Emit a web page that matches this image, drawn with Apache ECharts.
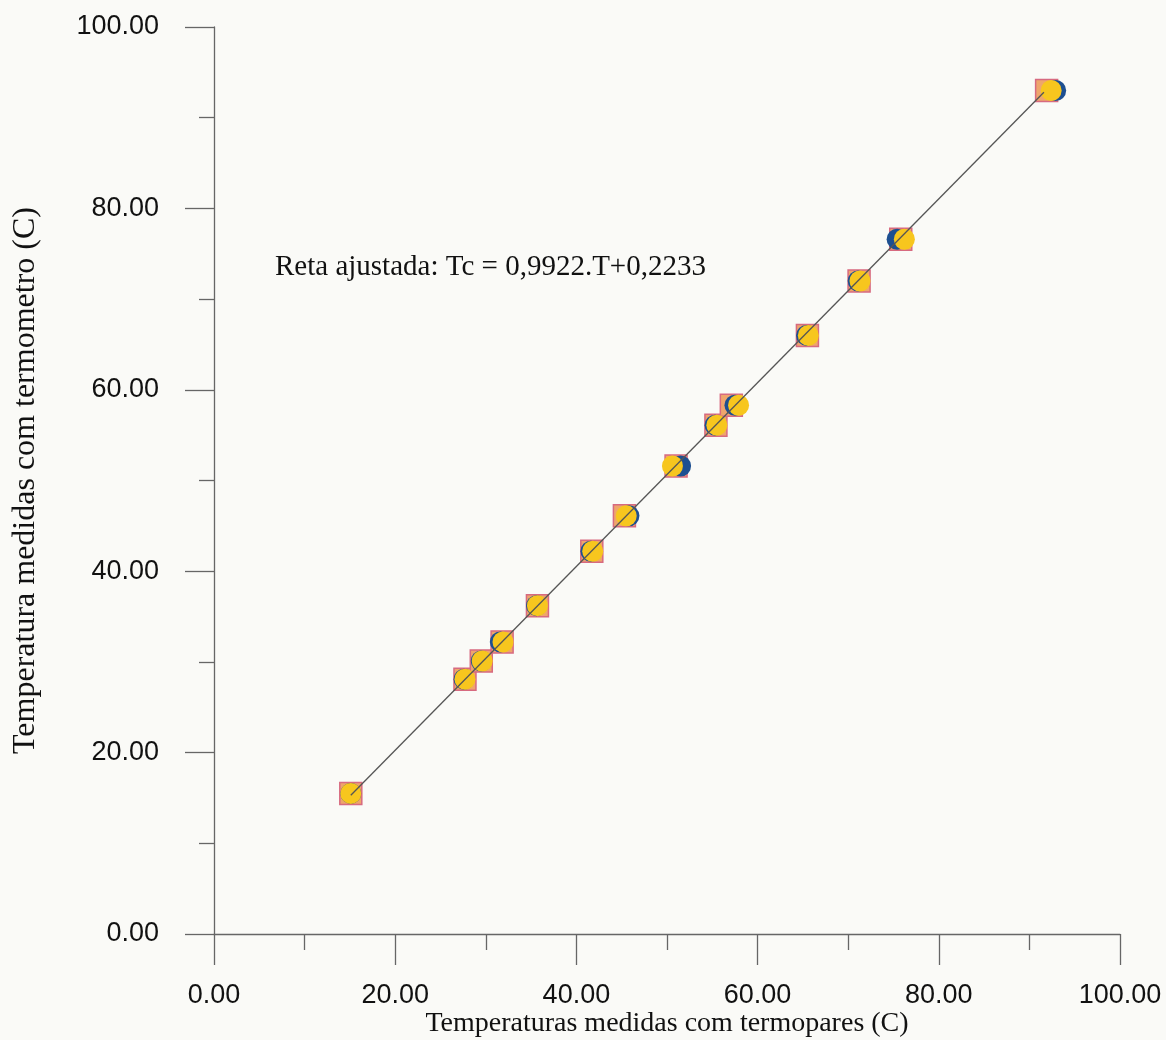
<!DOCTYPE html>
<html>
<head>
<meta charset="utf-8">
<script src="https://cdn.jsdelivr.net/npm/echarts@6/dist/echarts.min.js"></script>
<style>
html,body{margin:0;padding:0;background:#fafaf7;}
#chart{width:1166px;height:1040px;}
</style>
</head>
<body>
<div id="chart"></div>
<script>
// Data
const squarePts = [[15.1,15.5],[27.7,28.1],[29.5,30.1],[31.8,32.2],[35.7,36.2],[41.7,42.2],[45.3,46.1],[51.0,51.6],[55.4,56.1],[57.1,58.3],[65.5,66.0],[71.2,72.0],[75.8,76.6],[91.9,93.0]];
const bluePts   = [[15.1,15.5],[27.6,28.1],[29.5,30.1],[31.6,32.2],[35.6,36.2],[41.6,42.2],[45.8,46.1],[51.5,51.6],[55.3,56.1],[57.5,58.3],[65.4,66.0],[71.1,72.0],[75.4,76.6],[92.9,93.0]];
const yellowPts = [[15.1,15.5],[27.7,28.1],[29.6,30.1],[31.9,32.2],[35.7,36.2],[41.8,42.2],[45.5,46.1],[50.6,51.6],[55.5,56.1],[57.9,58.3],[65.6,66.0],[71.3,72.0],[76.2,76.6],[92.4,93.0]];
const fitLine   = [[15.1,15.3],[91.6,92.8]];
const xName = 'Temperaturas medidas com termopares (C)';
const yName = 'Temperatura medidas com termometro (C)';
const annotation = 'Reta ajustada: Tc = 0,9922.T+0,2233';
const axisMin = 0, axisMax = 100, axisStep = 20;

const chart = echarts.init(document.getElementById('chart'));
const axisColor = '#666';
const labelStyle = {color:'#111', fontFamily:'Liberation Sans, Arial, sans-serif', fontSize:27};
const serif = 'Liberation Serif, Times New Roman, serif';
chart.setOption({
  backgroundColor:'#fafaf7',
  animation:false,
  grid:{left:214, right:46, top:27, bottom:106, containLabel:false, outerBoundsMode:'none'},
  xAxis:{
    type:'value', min:axisMin, max:axisMax, interval:axisStep,
    name:xName, nameLocation:'middle', nameGap:76, nameMoveOverlap:false,
    nameTextStyle:{color:'#111', fontFamily:serif, fontSize:28},
    axisLine:{show:true, onZero:false, lineStyle:{color:axisColor, width:1.3}},
    axisTick:{show:true, inside:false, length:31, lineStyle:{color:axisColor, width:1.3}},
    minorTick:{show:true, splitNumber:2, length:16, lineStyle:{color:axisColor, width:1.3}},
    axisLabel:{...labelStyle, margin:48, formatter:v=>v.toFixed(2)},
    splitLine:{show:false}
  },
  yAxis:{
    type:'value', min:axisMin, max:axisMax, interval:axisStep,
    name:yName, nameLocation:'middle', nameGap:172, nameMoveOverlap:false,
    nameTextStyle:{color:'#111', fontFamily:serif, fontSize:32},
    axisLine:{show:true, onZero:false, lineStyle:{color:axisColor, width:1.3}},
    axisTick:{show:true, inside:false, length:29, lineStyle:{color:axisColor, width:1.3}},
    minorTick:{show:true, splitNumber:2, length:15, lineStyle:{color:axisColor, width:1.3}},
    axisLabel:{...labelStyle, margin:55, formatter:v=>v.toFixed(2)},
    splitLine:{show:false}
  },
  graphic:[{
    type:'text', left:275, top:253,
    style:{text:annotation, fill:'#111', font:'29px "Liberation Serif", "Times New Roman", serif'}
  }],
  series:[
    {type:'scatter', data:squarePts, symbol:'rect', symbolSize:22, z:2,
     itemStyle:{color:'#eea56c', borderColor:'#d76a80', borderWidth:1.5, opacity:1}},
    {type:'scatter', data:bluePts, symbol:'circle', symbolSize:21, z:3,
     itemStyle:{color:'#1d4f91', opacity:1}},
    {type:'scatter', data:yellowPts, symbol:'circle', symbolSize:21, z:4,
     itemStyle:{color:'#f7c61e', opacity:1}},
    {type:'line', data:fitLine, showSymbol:false, symbol:'none', z:5,
     lineStyle:{color:'#555', width:1.3}}
  ]
});
</script>
</body>
</html>
